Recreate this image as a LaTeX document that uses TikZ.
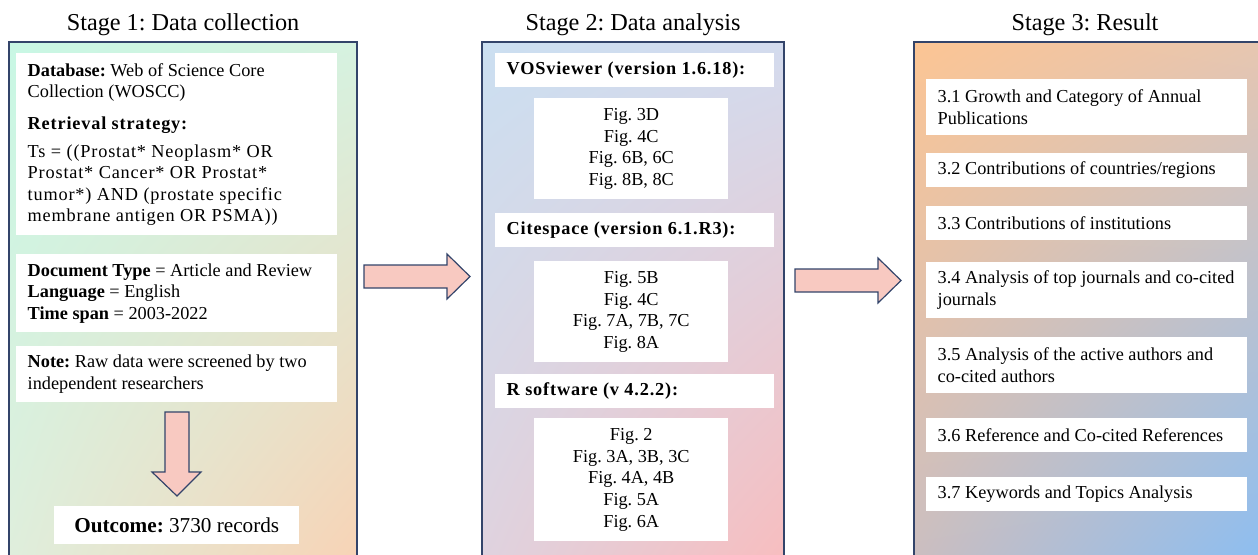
\documentclass[tikz,border=0pt]{standalone}
\usepackage{fontspec}
\usetikzlibrary{shadings}
\setmainfont{Liberation Serif}
\newfontfamily\spacedserif[LetterSpace=4.5]{Liberation Serif}
\frenchspacing

\definecolor{bordercol}{HTML}{33446A}
\definecolor{arrowfill}{HTML}{F8C9C1}
\definecolor{pa-ul}{RGB}{200,247,228}
\definecolor{pa-ur}{RGB}{214,242,224}
\definecolor{pa-ll}{RGB}{224,238,220}
\definecolor{pa-lr}{RGB}{249,210,180}
\definecolor{pb-ul}{RGB}{203,223,241}
\definecolor{pb-ur}{RGB}{211,219,238}
\definecolor{pb-ll}{RGB}{224,210,222}
\definecolor{pb-lr}{RGB}{249,188,189}
\definecolor{pc-ul}{RGB}{252,197,148}
\definecolor{pc-ur}{RGB}{230,198,178}
\definecolor{pc-ll}{RGB}{201,190,194}
\definecolor{pc-lr}{RGB}{133,189,246}

\tikzset{
  panelborder/.style={draw=bordercol, line width=1.1pt},
  wbox/.style={fill=white, draw=none, inner sep=0pt, anchor=north west},
  boxtext/.style={inner sep=0pt, font=\fontsize{13.7}{16.2}\selectfont},
  spacedtext/.style={font=\spacedserif\fontsize{13.7}{16.2}\selectfont},
  blockarrow/.style={fill=arrowfill, draw=bordercol, line width=0.9pt, line join=miter},
  stagetitle/.style={font=\fontsize{18.2}{22}\selectfont, inner sep=0pt, anchor=base},
}

% white box from its corners (pixel units): name, x1, y1, x2, y2
\newcommand\whitebox[5]{%
  \pgfmathsetmacro\boxw{(#4-#2)*0.75}%
  \pgfmathsetmacro\boxh{(#5-#3)*0.75}%
  \node[wbox, minimum width=\boxw pt, minimum height=\boxh pt] (#1) at (#2,#3) {};}
% left-aligned text inside a box: box name, extra style, text
\newcommand\lefttext[3]{%
  \node[boxtext, align=left, anchor=west, #2] (#1-txt) at ([xshift=8.6pt]#1.west) {#3};}
% centred text inside a box: box name, extra style, text
\newcommand\midtext[3]{%
  \node[boxtext, align=center, #2] (#1-txt) at (#1.center) {#3};}

\begin{document}
\begin{tikzpicture}[x=0.75pt, y=-0.75pt]
  \useasboundingbox (0,0) rectangle (1258,554);
  \clip (0,0) rectangle (1258,554);

  % ---- panel backgrounds ----
  \shade[upper left=pa-ul, upper right=pa-ur, lower left=pa-ll, lower right=pa-lr]
    (9,42) rectangle (357,580);
  \draw[panelborder] (9,580) -- (9,42) -- (357,42) -- (357,580);

  \shade[upper left=pb-ul, upper right=pb-ur, lower left=pb-ll, lower right=pb-lr]
    (482,42) rectangle (784,580);
  \draw[panelborder] (482,580) -- (482,42) -- (784,42) -- (784,580);

  \shade[upper left=pc-ul, upper right=pc-ur, lower left=pc-ll, lower right=pc-lr]
    (914,42) rectangle (1280,580);
  \draw[panelborder] (914,580) -- (914,42) -- (1280,42);

  % ---- titles ----
  \node[stagetitle] (t1) at (183,30) {Stage 1: Data collection};
  \node[stagetitle] (t2) at (633,30) {Stage 2: Data analysis};
  \node[stagetitle] (t3) at (1085,30) {Stage 3: Result};

  % ---- stage 1 ----
  \whitebox{db}{16}{53}{337}{109}
  \whitebox{rs}{16}{107}{337}{235}
  \whitebox{doc}{16}{254}{337}{332}
  \whitebox{note}{16}{346}{337}{402}
  \whitebox{out}{54}{506}{299}{544}
  \lefttext{db}{yshift=-1pt}{\textbf{Database:} Web of Science Core\\Collection (WOSCC)}
  \lefttext{rs}{spacedtext}{\textbf{Retrieval strategy:}\\[4.5pt]
    Ts = ((Prostat* Neoplasm* OR\\Prostat* Cancer* OR Prostat*\\tumor*) AND (prostate specific\\membrane antigen OR PSMA))}
  \lefttext{doc}{}{\textbf{Document Type} = Article and Review\\\textbf{Language} = English\\\textbf{Time span} = 2003-2022}
  \lefttext{note}{}{\textbf{Note:} Raw data were screened by two\\independent researchers}
  \midtext{out}{font=\fontsize{15.9}{19}\selectfont}{\textbf{Outcome:} 3730 records}

  \draw[blockarrow] (165,412) -- (189,412) -- (189,472) -- (201,472) -- (177,496)
    -- (152,472) -- (165,472) -- cycle;

  % ---- stage 2 ----
  \whitebox{vos}{495}{53}{774}{87}
  \whitebox{vosf}{534}{98}{728}{199}
  \whitebox{cite}{495}{213}{774}{247}
  \whitebox{citef}{534}{261}{728}{362}
  \whitebox{rsw}{495}{374}{774}{408}
  \whitebox{rswf}{534}{418}{728}{541}
  \lefttext{vos}{spacedtext}{\textbf{VOSviewer (version 1.6.18):}}
  \midtext{vosf}{}{Fig. 3D\\Fig. 4C\\Fig. 6B, 6C\\Fig. 8B, 8C}
  \lefttext{cite}{spacedtext}{\textbf{Citespace (version 6.1.R3):}}
  \midtext{citef}{}{Fig. 5B\\Fig. 4C\\Fig. 7A, 7B, 7C\\Fig. 8A}
  \lefttext{rsw}{spacedtext}{\textbf{R software (v 4.2.2):}}
  \midtext{rswf}{}{Fig. 2\\Fig. 3A, 3B, 3C\\Fig. 4A, 4B\\Fig. 5A\\Fig. 6A}

  % ---- stage 3 ----
  \whitebox{r1}{926}{79}{1247}{135}
  \whitebox{r2}{926}{153}{1247}{187}
  \whitebox{r3}{926}{206}{1247}{240}
  \whitebox{r4}{926}{262}{1247}{318}
  \whitebox{r5}{926}{337}{1247}{393}
  \whitebox{r6}{926}{418}{1247}{452}
  \whitebox{r7}{926}{477}{1247}{511}
  \lefttext{r1}{}{3.1 Growth and Category of Annual\\Publications}
  \lefttext{r2}{}{3.2 Contributions of countries/regions}
  \lefttext{r3}{}{3.3 Contributions of institutions}
  \lefttext{r4}{}{3.4 Analysis of top journals and co-cited\\journals}
  \lefttext{r5}{}{3.5 Analysis of the active authors and\\co-cited authors}
  \lefttext{r6}{}{3.6 Reference and Co-cited References}
  \lefttext{r7}{}{3.7 Keywords and Topics Analysis}

  % ---- arrows between stages ----
  \draw[blockarrow] (364,265) -- (447,265) -- (447,254) -- (470,276.5) -- (447,299)
    -- (447,288) -- (364,288) -- cycle;
  \draw[blockarrow] (795,269) -- (878,269) -- (878,258) -- (901,280.5) -- (878,303)
    -- (878,292) -- (795,292) -- cycle;
\end{tikzpicture}
\end{document}
